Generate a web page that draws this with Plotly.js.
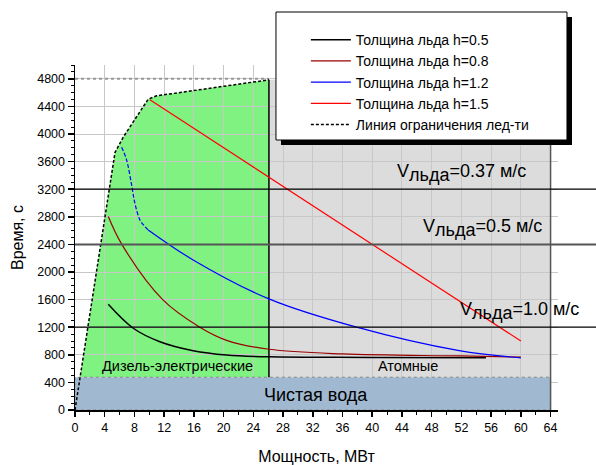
<!DOCTYPE html>
<html>
<head>
<meta charset="utf-8">
<script src="https://cdn.plot.ly/plotly-3.0.1.min.js"></script>
<style>html,body{margin:0;padding:0;background:#fff;}#chart{width:596px;height:465px;}</style>
</head>
<body>
<div id="chart"></div>
<script>
// ---- data ----
const limX = [0, 5.38, 6.49, 9.85, 10.98, 26.1];
const limY = [0, 3731, 3954, 4505, 4553, 4785];

const h05X = [4.48, 7.84, 11.42, 15.9, 20.4, 26.1, 40, 55.3];
const h05Y = [1532, 1185, 990, 860, 797, 770, 762, 756];

const h08X = [4.48, 6.3, 11.8, 16.8, 20.4, 26.1, 36.1, 51.7, 60];
const h08Y = [2803, 2400, 1600, 1200, 1010, 880, 812, 783, 766];

const h12dashX = [6.28, 6.94, 7.62, 8.06, 8.74, 9.41, 9.85];
const h12dashY = [3809, 3625, 3262, 2997, 2755, 2658, 2610];
const h12X = [9.85, 15.9, 26.1, 37.9, 51.7, 60];
const h12Y = [2610, 2175, 1610, 1200, 860, 755];

const h15X = [10.08, 60];
const h15Y = [4495, 1000];

const seriesNames = ['Толщина льда h=0.5', 'Толщина льда h=0.8', 'Толщина льда h=1.2', 'Толщина льда h=1.5', 'Линия ограничения лед-ти'];

const speedLevels = [3200, 2400, 1200];
const speedValues = ['0.37', '0.5', '1.0'];

const waterTop = 475;
const dieselMax = 26.1;
const powerMax = 64;
const timeTop = 4800;

// ---- figure ----
const FONT = 'Arial, "Liberation Sans", sans-serif';

const traces = [
  {x: h05X, y: h05Y, mode: 'lines', name: seriesNames[0], line: {color: '#000000', width: 1.5, shape: 'spline'}},
  {x: h08X, y: h08Y, mode: 'lines', name: seriesNames[1], line: {color: '#990000', width: 1.2, shape: 'spline'}},
  {x: h12X, y: h12Y, mode: 'lines', name: seriesNames[2], line: {color: '#0000ff', width: 1.2, shape: 'spline'}},
  {x: h12dashX, y: h12dashY, mode: 'lines', showlegend: false, line: {color: '#0000ff', width: 1.2, shape: 'spline', dash: '4px,2px'}},
  {x: h15X, y: h15Y, mode: 'lines', name: seriesNames[3], line: {color: '#ff0000', width: 1.2}},
  {x: limX, y: limY, mode: 'lines', name: seriesNames[4], line: {color: '#000000', width: 1.5, dash: '3px,2px'}}
];

// green region path built from the limit line
const t0 = waterTop / limY[1];
const gx0 = limX[0] + t0 * (limX[1] - limX[0]);
let gpath = 'M' + gx0 + ',' + waterTop;
for (let i = 1; i < limX.length; i++) gpath += ' L' + limX[i] + ',' + limY[i];
gpath += ' L' + dieselMax + ',' + waterTop + ' Z';

const shapes = [
  {type: 'rect', xref: 'x', yref: 'y', x0: dieselMax, x1: powerMax, y0: waterTop, y1: limY[limY.length - 1], fillcolor: '#dcdcdc', line: {width: 0}, layer: 'below'},
  {type: 'path', xref: 'x', yref: 'y', path: gpath, fillcolor: '#80f282', line: {width: 0}, layer: 'below'},
  {type: 'rect', xref: 'x', yref: 'y', x0: 0, x1: powerMax, y0: 0, y1: waterTop, fillcolor: '#a0b8d0', line: {width: 1, color: '#888', dash: 'dot'}, layer: 'between'},
  {type: 'line', xref: 'x', yref: 'y', x0: dieselMax, x1: dieselMax, y0: waterTop, y1: limY[limY.length - 1], line: {color: '#000', width: 1.5}, layer: 'between'},
  {type: 'line', xref: 'x', yref: 'y', x0: powerMax, x1: powerMax, y0: 0, y1: limY[limY.length - 1], line: {color: '#555', width: 1.5}, layer: 'between'},
  {type: 'line', xref: 'x', yref: 'y', x0: 0, x1: dieselMax, y0: timeTop, y1: timeTop, line: {color: '#999', width: 2, dash: 'dot'}, layer: 'between'},
  {type: 'line', xref: 'paper', yref: 'y', x0: 0, x1: 1.08, y0: speedLevels[0], y1: speedLevels[0], line: {color: '#000', width: 1.2}, layer: 'above'},
  {type: 'line', xref: 'paper', yref: 'y', x0: 0, x1: 1.08, y0: speedLevels[1], y1: speedLevels[1], line: {color: '#555', width: 2}, layer: 'above'},
  {type: 'line', xref: 'paper', yref: 'y', x0: 0, x1: 1.08, y0: speedLevels[2], y1: speedLevels[2], line: {color: '#000', width: 1.2}, layer: 'above'},
  // legend frame with shadow
  {type: 'rect', xref: 'paper', yref: 'paper', x0: 0.4265, x1: 1.029, y0: 0.7681, y1: 1.139, fillcolor: '#000', line: {width: 0}, layer: 'above'},
  {type: 'rect', xref: 'paper', yref: 'paper', x0: 0.4161, x1: 1.0186, y0: 0.7826, y1: 1.1536, fillcolor: '#fff', line: {width: 1, color: '#000'}, layer: 'above'}
];

const speedX = [43.0, 46.5, 51.5];
const annotations = speedValues.map((v, i) => ({
  xref: 'x', yref: 'y', x: speedX[i], y: speedLevels[i], xanchor: 'left', yanchor: 'bottom', yshift: 2,
  text: 'V<sub><span style="font-size:18px">льда</span></sub>=' + v + ' м/с',
  showarrow: false, font: {family: FONT, size: 18, color: '#000'}
}));
annotations.push(
  {xref: 'x', yref: 'y', x: 13.8, y: 638, text: 'Дизель-электрические', showarrow: false, font: {family: FONT, size: 14.5, color: '#000'}},
  {xref: 'x', yref: 'y', x: 44.8, y: 638, text: 'Атомные', showarrow: false, font: {family: FONT, size: 14.5, color: '#000'}},
  {xref: 'x', yref: 'y', x: 32.4, y: 218, text: 'Чистая вода', showarrow: false, font: {family: FONT, size: 18, color: '#000'}}
);

const layout = {
  width: 596, height: 465,
  margin: {l: 75, r: 38, t: 65, b: 55},
  paper_bgcolor: '#fff', plot_bgcolor: '#fff',
  font: {family: FONT, color: '#000'},
  showlegend: true,
  legend: {
    x: 0.478, y: 1.1185, xanchor: 'left', yanchor: 'top', xref: 'paper', yref: 'paper',
    bgcolor: 'rgba(0,0,0,0)', borderwidth: 0, itemwidth: 40,
    font: {family: FONT, size: 14, color: '#000'}, tracegroupgap: 0
  },
  xaxis: {
    range: [0, 65], tick0: 0, dtick: 4, tickmode: 'linear',
    ticks: 'outside', ticklen: 5, tickwidth: 1.5, tickcolor: '#000',
    showline: true, linecolor: '#000', linewidth: 1.5,
    showgrid: true, gridcolor: '#c8c8c8', gridwidth: 1, zeroline: false,
    minor: {dtick: 2, ticks: 'outside', ticklen: 3, tickwidth: 1, tickcolor: '#000', showgrid: false},
    tickfont: {family: FONT, size: 12.5, color: '#000'},
    title: {text: 'Мощность, МВт', font: {family: FONT, size: 16, color: '#000'}, standoff: 22},
    automargin: false
  },
  yaxis: {
    range: [0, 5000], tick0: 0, dtick: 400, tickmode: 'linear',
    ticks: 'outside', ticklen: 6, tickwidth: 1.5, tickcolor: '#000',
    showline: true, linecolor: '#000', linewidth: 1.5,
    showgrid: true, gridcolor: '#c8c8c8', gridwidth: 1, zeroline: false,
    minor: {dtick: 100, ticks: 'outside', ticklen: 3, tickwidth: 1, tickcolor: '#000', showgrid: false},
    tickfont: {family: FONT, size: 12.5, color: '#000'},
    title: {text: 'Время, с', font: {family: FONT, size: 16, color: '#000'}, standoff: 9},
    automargin: false
  },
  shapes: shapes,
  annotations: annotations
};

Plotly.newPlot('chart', traces, layout, {displayModeBar: false, staticPlot: true});
</script>
</body>
</html>
